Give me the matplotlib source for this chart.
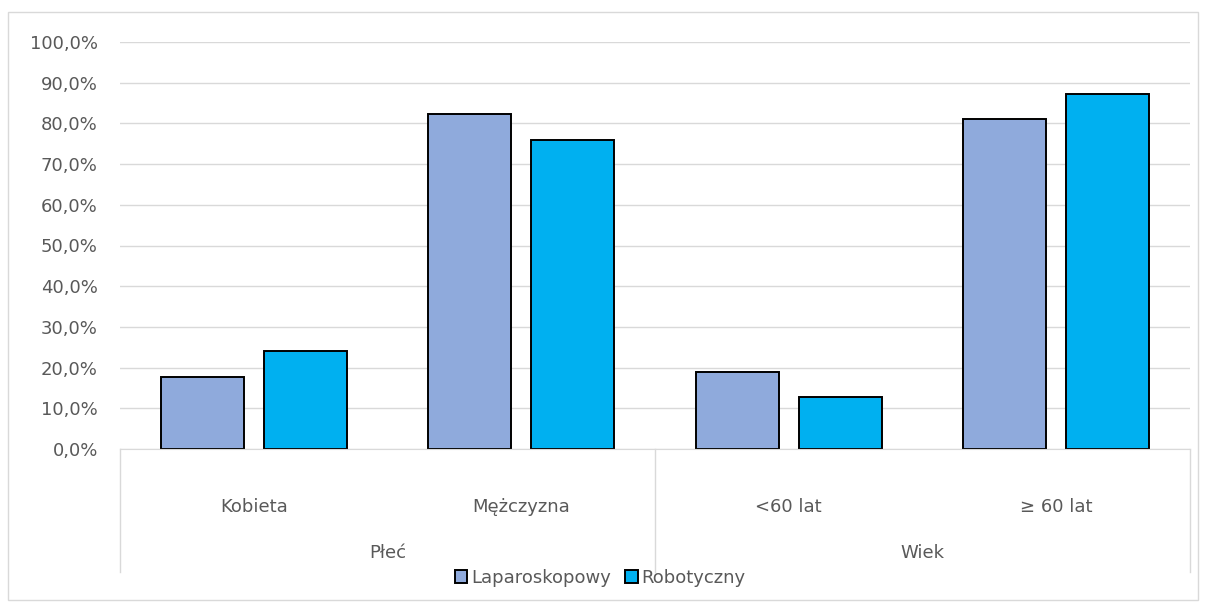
import matplotlib
matplotlib.use('Agg')
import matplotlib.pyplot as plt
from matplotlib.patches import Rectangle, Patch
import numpy as np

categories = ['Kobieta', 'Mężczyzna', '<60 lat', '≥ 60 lat']
groups = ['Płeć', 'Wiek']
series_names = ['Laparoskopowy', 'Robotyczny']
laparoskopowy = [17.8, 82.2, 18.9, 81.1]
robotyczny = [24.1, 75.9, 12.7, 87.3]
yticks = np.arange(0, 101, 10)

colors = ['#8FAADC', '#00B0F0']
grey_txt = '#595959'
grid_col = '#D9D9D9'
fs = 13

W, H = 1206, 607
fig = plt.figure(figsize=(W / 100, H / 100), dpi=100)
fig.patches.append(Rectangle((8 / W, 1 - 600 / H), 1190 / W, 588 / H,
                             transform=fig.transFigure, fill=False,
                             edgecolor=grid_col, lw=1))

ax = fig.add_axes([120 / W, 1 - 449 / H, 1070 / W, 407 / H])
x = np.arange(len(categories))
bw = 0.31
off = 0.192
ax.bar(x - off, laparoskopowy, bw, color=colors[0], edgecolor='black', lw=1.4, zorder=3)
ax.bar(x + off, robotyczny, bw, color=colors[1], edgecolor='black', lw=1.4, zorder=3)

ax.set_xlim(-0.5, len(categories) - 0.5)
ax.set_ylim(0, 100)
ax.set_yticks(yticks)
ax.set_yticklabels([f'{v:.1f}%'.replace('.', ',') for v in yticks],
                   fontsize=fs, color=grey_txt)
ax.tick_params(axis='y', length=0, pad=16)
ax.set_xticks([])
ax.grid(axis='y', color=grid_col, lw=1, zorder=0)
for s in ['left', 'right', 'top']:
    ax.spines[s].set_visible(False)
ax.spines['bottom'].set_color(grid_col)
ax.spines['bottom'].set_zorder(4)

tr = ax.get_xaxis_transform()
for xv in [-0.5, 1.5, 3.5]:
    ax.plot([xv, xv], [0, -0.302], transform=tr, color=grid_col, lw=1, clip_on=False)
for i, c in enumerate(categories):
    ax.text(i, -0.1425, c, transform=tr, ha='center', va='center',
            fontsize=fs, color=grey_txt)
for j, g in enumerate(groups):
    ax.text(2 * j + 0.5, -0.2555, g, transform=tr, ha='center', va='center',
            fontsize=fs, color=grey_txt)

handles = [Patch(facecolor=colors[k], edgecolor='black', lw=1.4, label=series_names[k])
           for k in range(2)]
fig.legend(handles=handles, loc='center', bbox_to_anchor=(600 / W, 1 - 578 / H),
           ncol=2, frameon=False, fontsize=fs, handlelength=0.7, handleheight=0.7,
           handletextpad=0.2, columnspacing=0.8, labelcolor=grey_txt)

fig.savefig('out.png', dpi=100)
